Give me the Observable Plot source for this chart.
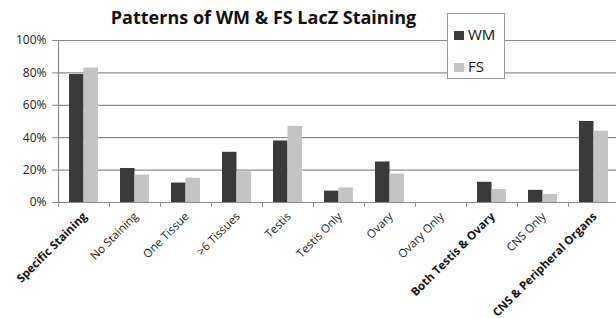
<!DOCTYPE html>
<html>
<head>
<meta charset="utf-8">
<script src="https://cdn.jsdelivr.net/npm/d3@7"></script>
<script src="https://cdn.jsdelivr.net/npm/@observablehq/plot@0.6"></script>
<style>
  html, body { margin: 0; padding: 0; background: #fff; }
  #wrap { position: relative; width: 616px; height: 318px; overflow: hidden; font-family: "Open Sans", sans-serif; }
  #title { position: absolute; left: 0; width: 527px; top: 5px; text-align: center; font-weight: bold; font-size: 18px; color: #111; white-space: nowrap; }
  #legend { position: absolute; left: 447px; top: 13px; width: 56px; height: 64px; border: 1px solid #9a9a9a; background: #fff; }
  .item { position: absolute; left: 6px; font-size: 15px; color: #111; line-height: 15px; }
  .sw { display: inline-block; width: 10px; height: 9px; margin-right: 4px; vertical-align: 0px; }
</style>
</head>
<body>
<div id="wrap">
  <div id="chart"></div>
  <div id="title">Patterns of WM &amp; FS LacZ Staining</div>
  <div id="legend">
    <div class="item" style="top:13px"><span class="sw" style="background:#3a3a3a"></span>WM</div>
    <div class="item" style="top:45px"><span class="sw" style="background:#c4c4c4"></span>FS</div>
  </div>
</div>
<script>
const categories = ["Specific Staining", "No Staining", "One Tissue", ">6 Tissues", "Testis", "Testis Only", "Ovary", "Ovary Only", "Both Testis & Ovary", "CNS Only", "CNS & Peripheral Organs"];
const boldCategories = ["Specific Staining", "Both Testis & Ovary", "CNS & Peripheral Organs"];
const wmValues = [0.79, 0.21, 0.12, 0.31, 0.38, 0.07, 0.25, 0, 0.125, 0.075, 0.50];
const fsValues = [0.83, 0.17, 0.15, 0.19, 0.47, 0.09, 0.175, 0, 0.08, 0.05, 0.44];
const yTicks = [0, 0.2, 0.4, 0.6, 0.8, 1.0];

const wm = categories.map((c, i) => ({cat: c, v: wmValues[i]}));
const fs = categories.map((c, i) => ({cat: c, v: fsValues[i]}));
const normal = categories.filter(c => !boldCategories.includes(c));

const chart = Plot.plot({
  width: 616,
  height: 318,
  marginLeft: 57,
  marginRight: 0,
  marginTop: 40,
  marginBottom: 116,
  style: {fontFamily: "Open Sans, sans-serif", fontSize: "12px", color: "#222", background: "#fff"},
  x: {domain: categories, range: [58, 619], padding: 0, label: null},
  y: {domain: [0, 1], label: null},
  marks: [
    Plot.ruleY(yTicks.slice(1), {stroke: "#8c8c8c", strokeWidth: 1.2}),
    Plot.barY(wm, {x: "cat", y: "v", fill: "#3a3a3a", insetLeft: 11, insetRight: 25.5}),
    Plot.barY(fs, {x: "cat", y: "v", fill: "#c4c4c4", insetLeft: 25.5, insetRight: 11}),
    Plot.ruleY([0], {stroke: "#8c8c8c", strokeWidth: 1.2}),
    Plot.ruleX([categories[0]], {x: d => d, dx: -25.5, y1: 0, y2: 1, stroke: "#8c8c8c", strokeWidth: 1.2}),
    Plot.axisY({ticks: yTicks, tickFormat: d3.format(".0%"), tickSize: 5, tickPadding: 6, stroke: "#8c8c8c", fontSize: 12, label: null}),
    Plot.axisX({tickSize: 5, dx: -25.5, tickFormat: () => "", stroke: "#8c8c8c", label: null}),
    Plot.text(normal, {x: d => d, y: () => 0, dy: 12, dx: 1, rotate: -45, textAnchor: "end", fontSize: 11.5, fill: "#222"}),
    Plot.text(boldCategories, {x: d => d, y: () => 0, dy: 12, dx: 1, rotate: -45, textAnchor: "end", fontSize: 11.5, fontWeight: "bold", fill: "#111"})
  ]
});
document.getElementById("chart").appendChild(chart);
</script>
</body>
</html>
